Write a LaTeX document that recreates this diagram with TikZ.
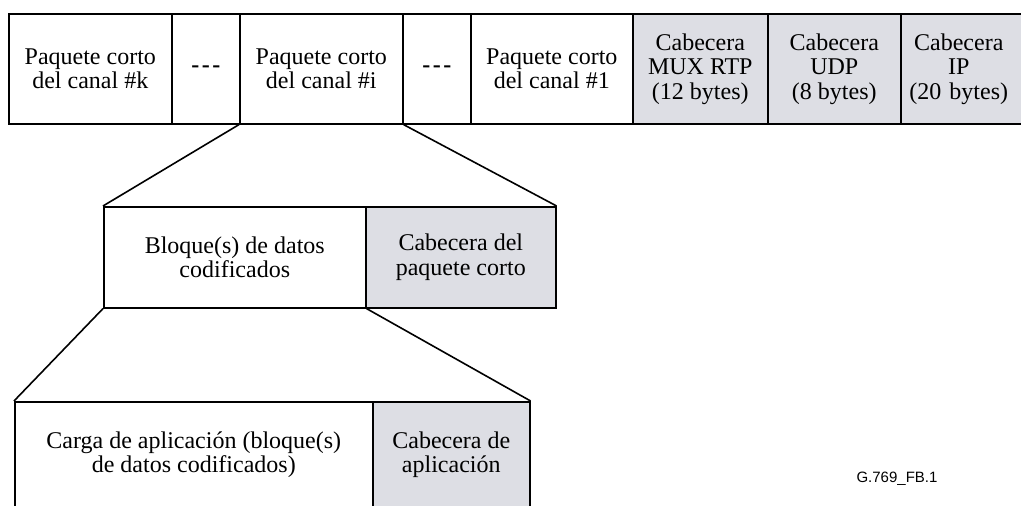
\documentclass[tikz,border=0pt]{standalone}
\usepackage{fontspec}
\setmainfont{Liberation Serif}
\newfontfamily\labelfont{Liberation Sans}
\definecolor{hdrgray}{RGB}{221,222,228}
\newcommand{\dashesmark}{\textbf{-\kern2.5pt-\kern2.5pt-}}
\begin{document}
\begin{tikzpicture}[x=1pt,y=-1pt,
  cell/.style={draw=black, line width=1.6pt, anchor=north west, inner sep=0pt,
     align=center, font=\fontsize{24}{24.5}\selectfont},
  hdr/.style={cell, fill=hdrgray},
  funnel/.style={draw=black, line width=1.6pt}]
\useasboundingbox (0,0) rectangle (1021,506);
\clip (0,0) rectangle (1021,506);
% top row
\node[cell, minimum width=163pt, minimum height=110pt] (k) at (8,13) {Paquete corto\\del canal \#k};
\node[cell, minimum width=68pt, minimum height=110pt] (d1) at (171,13) {\dashesmark};
\node[cell, minimum width=163pt, minimum height=110pt] (i) at (239,13) {Paquete corto\\del canal \#i};
\node[cell, minimum width=68pt, minimum height=110pt] (d2) at (402,13) {\dashesmark};
\node[cell, minimum width=162pt, minimum height=110pt] (c1) at (470,13) {Paquete corto\\del canal \#1};
\node[hdr, minimum width=135pt, minimum height=110pt] (mux) at (632,13) {Cabecera\\MUX RTP\\(12 bytes)};
\node[hdr, minimum width=133pt, minimum height=110pt] (udp) at (767,13) {Cabecera\\UDP\\(8 bytes)};
\node[hdr, minimum width=124pt, minimum height=110pt, text width=118pt] (ip) at (900,13) {\hspace*{-8pt}Cabecera\\\hspace*{-8pt}IP\\\hspace*{-8pt}(20 bytes)};
% middle row
\node[cell, minimum width=262pt, minimum height=101pt] (bl) at (103,206) {Bloque(s) de datos\\codificados};
\node[hdr, minimum width=190pt, minimum height=101pt] (ch) at (365,206) {Cabecera del\\paquete corto};
% bottom row
\node[cell, minimum width=358pt, minimum height=106pt] (ca) at (14,401) {Carga de aplicación (bloque(s)\\de datos codificados)};
\node[hdr, minimum width=157pt, minimum height=106pt] (ah) at (372,401) {Cabecera de\\aplicación};
% funnels
\draw[funnel] (i.south west) -- (bl.north west);
\draw[funnel] (i.south east) -- (ch.north east);
\draw[funnel] (bl.south west) -- (ca.north west);
\draw[funnel] (bl.south east) -- (ah.north east);
% label
\node[font=\labelfont\fontsize{15}{18}\selectfont] (lbl) at (897,479) {G.769\_FB.1};
\end{tikzpicture}
\end{document}
